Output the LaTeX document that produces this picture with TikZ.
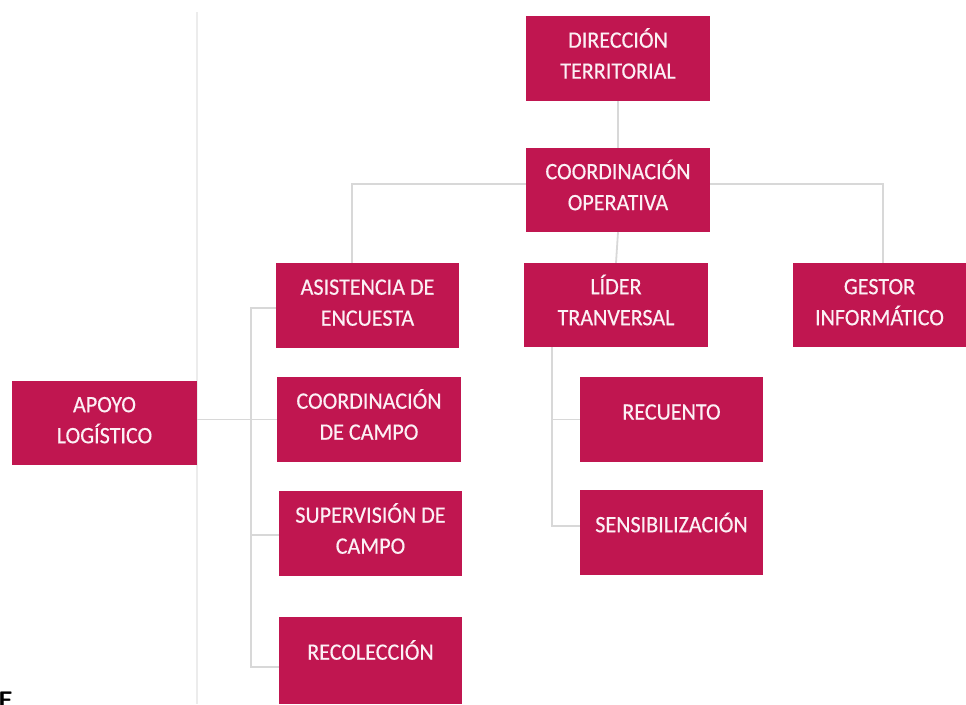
\documentclass[tikz,border=0pt]{standalone}
\usepackage{fontspec}
\setmainfont{Carlito}
\newfontfamily\boxfont[FakeStretch=0.94,FakeBold=0.4]{Carlito}
\definecolor{boxfill}{RGB}{192,22,80}
\definecolor{boxtext}{RGB}{252,240,245}
\definecolor{connline}{RGB}{216,216,216}
\definecolor{frameline}{RGB}{236,236,236}
\newcommand{\twolines}[2]{\raisebox{1.5pt}[\height][\depth]{\begin{tabular}{@{}c@{}}#1\\#2\end{tabular}}}
\newcommand{\oneline}[2]{\raisebox{#1}[\height][\depth]{#2}}
\begin{document}
\begin{tikzpicture}[x=1pt,y=-1pt,
  orgbox/.style={fill=boxfill,text=boxtext,inner sep=0pt,align=center,
    font=\boxfont\fontsize{23.5}{31}\selectfont,minimum width=184pt,minimum height=85pt},
  conn/.style={draw=connline,line width=1.8pt}]
\useasboundingbox (0,0) rectangle (966,704);
\fill[white] (0,0) rectangle (966,704);
\draw[frameline,line width=1.5pt] (197,12) -- (197,704);
% boxes
\node[orgbox] (dt) at (618,58.5) {\twolines{DIRECCIÓN}{TERRITORIAL}};
\node[orgbox,minimum height=84pt] (co) at (618,190) {\twolines{COORDINACIÓN}{OPERATIVA}};
\node[orgbox,minimum width=183pt] (ae) at (367.5,305.5) {\twolines{ASISTENCIA DE}{ENCUESTA}};
\node[orgbox,minimum height=84pt] (lt) at (616,305) {\twolines{LÍDER}{TRANVERSAL}};
\node[orgbox,minimum width=173pt,minimum height=84pt] (gi) at (879.5,305) {\twolines{GESTOR}{INFORMÁTICO}};
\node[orgbox,minimum width=185pt,minimum height=84pt] (al) at (104.5,423) {\twolines{APOYO}{LOGÍSTICO}};
\node[orgbox] (cc) at (369,419.5) {\twolines{COORDINACIÓN}{DE CAMPO}};
\node[orgbox,minimum width=183pt] (sc) at (370.5,533.5) {\twolines{SUPERVISIÓN DE}{CAMPO}};
\node[orgbox,minimum width=183pt,minimum height=87pt] (re) at (370.5,660.5) {\oneline{10.5pt}{RECOLECCIÓN}};
\node[orgbox,minimum width=183pt] (rc) at (671.5,419.5) {\oneline{7.5pt}{RECUENTO}};
\node[orgbox,minimum width=183pt] (sb) at (671.5,532.5) {\oneline{10pt}{SENSIBILIZACIÓN}};
% connectors
\draw[conn] (dt.south) -- (co.north);
\draw[conn] (co.south) -- (lt.north);
\draw[conn] ([yshift=6pt]co.west) -| ([xshift=-15.5pt]ae.north);
\draw[conn] ([yshift=6pt]co.east) -| ([xshift=3.5pt]gi.north);
\draw[conn] ([xshift=28pt]lt.south west) |- (rc.west);
\draw[conn] ([xshift=28pt]lt.south west) |- ([yshift=6.5pt]sb.west);
\draw[conn] ([yshift=-2.5pt]ae.west) -- ++(-25,0) |- ([yshift=-6.5pt]re.west);
\draw[conn] (al.east |- cc.west) -- (cc.west);
\draw[conn] ([yshift=-1.5pt]sc.west) -- ++(-28,0);
% cut-off letter at the lower left
\node[anchor=north west,inner sep=0pt,font=\fontsize{24}{24}\bfseries\sffamily] (cut) at (-2,692) {F};
\end{tikzpicture}
\end{document}
